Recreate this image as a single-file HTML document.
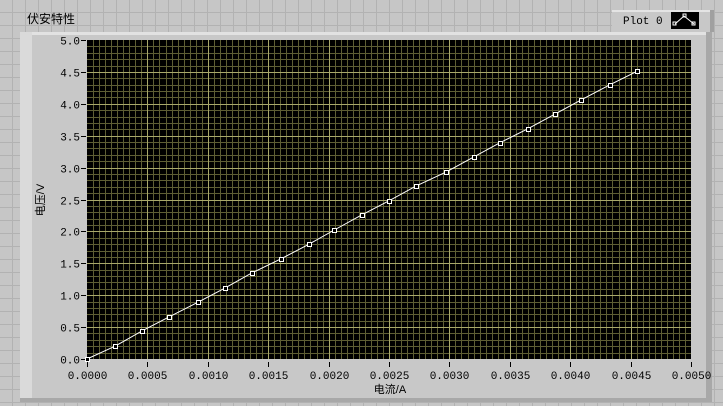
<!DOCTYPE html>
<html><head><meta charset="utf-8">
<style>
body{margin:0;width:723px;height:406px;overflow:hidden;background:#c4c4c4;font-family:"Liberation Mono","Noto Sans CJK SC",monospace;}
svg{display:block}
</style></head><body>
<svg id="chart" width="723" height="406">
<defs>
<pattern id="bg" width="13" height="13" patternUnits="userSpaceOnUse">
<rect width="13" height="13" fill="#c6c6c6"/>
<path d="M0 12.5H13M12.5 0V13" stroke="#b2b2b2" stroke-width="1"/>
</pattern>
</defs>
<rect width="723" height="406" fill="url(#bg)"/>
<text x="27" y="23" font-size="12" font-family="'Liberation Sans','Noto Sans CJK SC',sans-serif" fill="#000">伏安特性</text>
<g>
<rect x="20" y="32" width="692" height="370" fill="#c8c8c8"/>
<rect x="20" y="32" width="692" height="3" fill="#e2e2e2"/>
<rect x="20" y="32" width="12" height="370" fill="#dadada"/>
<rect x="706" y="32" width="6" height="370" fill="#a8a8a8"/>
<rect x="20" y="398" width="692" height="4" fill="#a8a8a8"/>
</g>
<g>
<rect x="612" y="10" width="102" height="22" fill="#c8c8c8"/>
<rect x="612" y="10" width="102" height="2" fill="#e4e4e4"/>
<rect x="710" y="10" width="4" height="22" fill="#a0a0a0"/>
<text x="623" y="24" font-size="11" fill="#000">Plot 0</text>
<rect x="671" y="12" width="28" height="17" fill="#000"/>
<polyline points="675,24 684,16 694,24" fill="none" stroke="#fff" stroke-width="1"/>
<rect x="673" y="22" width="3" height="3" fill="none" stroke="#fff" stroke-width="1"/>
<rect x="683" y="14" width="3" height="3" fill="none" stroke="#fff" stroke-width="1"/>
<rect x="692" y="22" width="3" height="3" fill="none" stroke="#fff" stroke-width="1"/>
</g>
<rect x="87" y="40" width="604" height="319" fill="#000"/>
<g id="grid"></g>
<g id="axes"></g>
<g id="series"></g>
<text x="390" y="393" font-size="11" text-anchor="middle" font-family="'Liberation Sans','Noto Sans CJK SC',sans-serif">电流/A</text>
<text x="0" y="0" font-size="11" text-anchor="middle" font-family="'Liberation Sans','Noto Sans CJK SC',sans-serif" transform="translate(44,200) rotate(-90)">电压/V</text>
</svg>
<script>
const xValues=[0,0.000232,0.000455,0.000679,0.000919,0.00114,0.001366,0.001606,0.001838,0.002045,0.002276,0.0025,0.002723,0.002972,0.003204,0.003419,0.003651,0.003874,0.00409,0.00433,0.004553];
const yValues=[0,0.20,0.44,0.66,0.89,1.11,1.35,1.57,1.80,2.02,2.26,2.48,2.71,2.93,3.17,3.39,3.61,3.84,4.06,4.30,4.51];
const xTicks=["0.0000","0.0005","0.0010","0.0015","0.0020","0.0025","0.0030","0.0035","0.0040","0.0045","0.0050"];
const yTicks=["0.0","0.5","1.0","1.5","2.0","2.5","3.0","3.5","4.0","4.5","5.0"];
const X0=87,X1=691,Y0=359,Y1=40,xMax=0.005,yMax=5;
const sx=v=>X0+(X1-X0)*v/xMax, sy=v=>Y0-(Y0-Y1)*v/yMax;
const NS="http://www.w3.org/2000/svg";
function mk(t,a,p){const e=document.createElementNS(NS,t);for(const k in a)e.setAttribute(k,a[k]);p.appendChild(e);return e;}
const grid=document.getElementById('grid'),axes=document.getElementById('axes'),series=document.getElementById('series');
// minor grid
for(let i=0;i<=100;i++){if(i%10===0)continue;const x=Math.round(sx(xMax*i/100))+0.5;
const l=mk('line',{x1:x,x2:x,y1:Y1,y2:Y0,stroke:'#5e5e34','stroke-width':1},grid);

}
for(let i=0;i<=50;i++){if(i%5===0)continue;const y=Math.round(sy(yMax*i/50))+0.5;
const l=mk('line',{x1:X0,x2:X1,y1:y,y2:y,stroke:'#5e5e34','stroke-width':1},grid);

}
xTicks.forEach((t,i)=>{const v=parseFloat(t);const x=Math.round(sx(v))+0.5;
if(i>0&&i<xTicks.length-1){const g=mk('line',{x1:x,x2:x,y1:Y1,y2:Y0,stroke:'#a8a86a','stroke-width':1},grid);

}
const tk=mk('line',{x1:x,x2:x,y1:Y0+3,y2:Y0+8,stroke:'#000'},axes);


const tx=mk('text',{x:x,y:Y0+20,'font-size':11,'text-anchor':'middle'},axes);tx.textContent=t;

});
yTicks.forEach((t,i)=>{const v=parseFloat(t);const y=Math.round(sy(v))+0.5;
if(i>0&&i<yTicks.length-1){const g=mk('line',{x1:X0,x2:X1,y1:y,y2:y,stroke:'#a8a86a','stroke-width':1},grid);

}
const tk=mk('line',{x1:X0-6,x2:X0-1,y1:y,y2:y,stroke:'#000'},axes);


const tx=mk('text',{x:X0-7,y:y+4,'font-size':11,'text-anchor':'end'},axes);tx.textContent=t;

});
const pts=xValues.map((v,i)=>sx(v)+','+sy(yValues[i])).join(' ');
const pl=mk('polyline',{points:pts,fill:'none',stroke:'#fff','stroke-width':1},series);


xValues.forEach((v,i)=>{const r=mk('rect',{x:Math.round(sx(v))-2+0.5,y:Math.round(sy(yValues[i]))-2+0.5,width:4,height:4,fill:'#000',stroke:'#fff','stroke-width':1},series);

});
</script>
</body></html>
